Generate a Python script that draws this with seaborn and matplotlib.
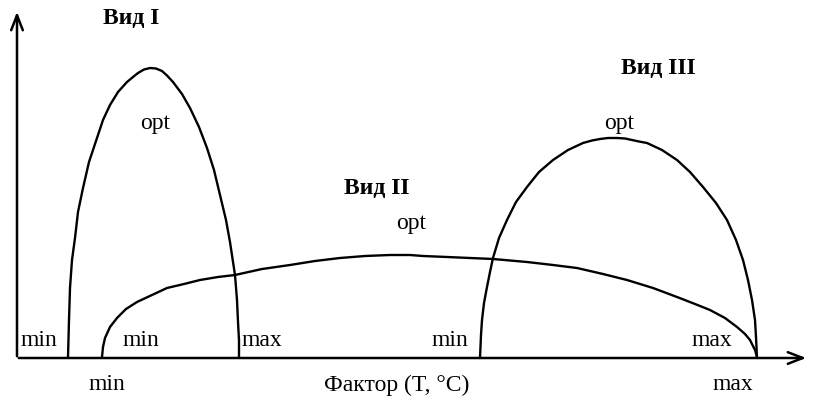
import numpy as np
import pandas as pd
import seaborn as sns
import matplotlib.pyplot as plt

# points (x = factor, y = response), origin at the axes corner
vid1_x = [51, 52, 53, 55, 58, 61, 66, 72, 80, 86, 93, 101, 110, 116, 121, 127, 133, 139, 145,
          150, 156, 165, 173, 182, 190, 197, 203, 209, 213, 218, 220, 221, 222, 222]
vid1_y = [1, 38, 70, 98, 120, 146, 170, 196, 220, 238, 253, 266, 276, 281, 285, 288.5, 290,
          289.5, 287, 282.5, 276, 264, 250, 231, 210, 188, 163, 138, 116, 83, 58, 36, 18, 1]

vid2_x = [85, 86, 88, 93, 100, 109, 120, 135, 150, 167, 183, 201, 218, 245, 273, 298, 323, 348,
          373, 393, 406, 430, 453, 476, 510, 536, 560, 586, 610, 636, 660, 678, 693, 708, 720,
          728, 733, 738, 740]
vid2_y = [1, 11, 20, 31, 40, 49, 56, 63, 70, 74, 78, 81, 83, 89, 93, 97, 100, 102, 103, 103, 102,
          101, 100, 99, 96, 93, 90, 84, 78, 70, 61, 54, 48, 40, 31, 24, 18, 8, 1]

vid3_x = [463, 464, 465, 467, 470, 473, 476, 482, 490, 499, 510, 522, 536, 551, 566, 575, 583,
          591, 600, 608, 615, 622, 630, 645, 660, 673, 686, 699, 710, 719, 726, 731, 735, 738,
          739, 740]
vid3_y = [0, 23, 38, 55, 71, 86, 100, 120, 138, 156, 171, 186, 198, 208, 215, 217.5, 219, 220,
          220, 219.5, 218, 216.5, 215, 208, 198, 186, 171, 155, 138, 118, 98, 78, 58, 38, 21, 0]

species = ["Вид I", "Вид II", "Вид III"]
species_pos = [(114, 339), (360, 170), (641, 289)]
opt_pos = [(138, 235), (394, 134), (602, 234)]
limit_labels = ["min", "min", "max", "min", "max"]
limit_pos = [(22, 17), (124, 17), (245, 17), (433, 17), (695, 17)]
axis_limits = ["min", "max"]
axis_limits_x = [90, 716]
axis_title = "Фактор (T, °C)"

sns.set_theme(style="white")
plt.rcParams["font.family"] = ["Liberation Serif", "DejaVu Serif"]
plt.rcParams["text.color"] = "black"

curves = pd.concat([
    pd.DataFrame({"x": vid1_x, "y": vid1_y, "vid": species[0]}),
    pd.DataFrame({"x": vid2_x, "y": vid2_y, "vid": species[1]}),
    pd.DataFrame({"x": vid3_x, "y": vid3_y, "vid": species[2]}),
])

fig = plt.figure(figsize=(8.19, 4.03), dpi=100)
ax = fig.add_axes([0, 0, 1, 1])

for name, part in curves.groupby("vid"):
    sns.lineplot(data=part, x="x", y="y", sort=False, estimator=None,
                 color="black", lw=1.7, ax=ax, legend=False)

# axes with arrows
ax.annotate("", xy=(792, 0), xytext=(-1, 0),
            arrowprops=dict(arrowstyle="->,head_length=0.9,head_width=0.35", lw=1.8, color="black"))
ax.annotate("", xy=(0, 349), xytext=(0, -1),
            arrowprops=dict(arrowstyle="->,head_length=0.9,head_width=0.35", lw=1.8, color="black"))

fs = 17
for name, (x, y) in zip(species, species_pos):
    ax.text(x, y, name, fontsize=fs, fontweight="bold", ha="center", va="center")
for x, y in opt_pos:
    ax.text(x, y, "opt", fontsize=fs, ha="center", va="center")
for lab, (x, y) in zip(limit_labels, limit_pos):
    ax.text(x, y, lab, fontsize=fs, ha="center", va="center")
for lab, x in zip(axis_limits, axis_limits_x):
    ax.text(x, -27, lab, fontsize=fs, ha="center", va="center")
ax.text(380, -27, axis_title, fontsize=fs, ha="center", va="center")

ax.set_xlim(-17, 802)
ax.set_ylim(-45, 358)
ax.axis("off")

fig.savefig("out.png", dpi=100, facecolor="white")
